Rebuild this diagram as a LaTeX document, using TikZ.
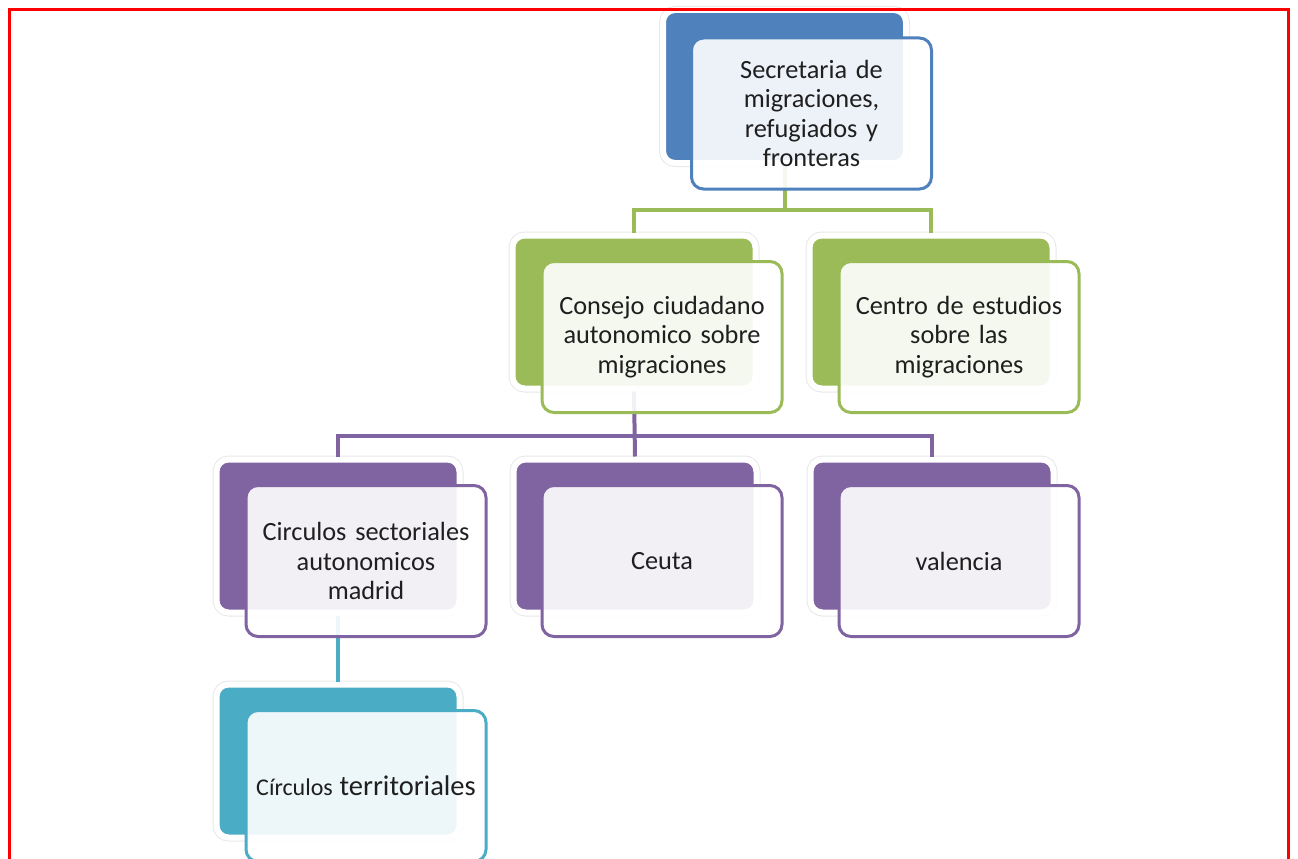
\documentclass[tikz,border=0pt]{standalone}
\usepackage{fontspec}
\setmainfont{Carlito}[WordSpace=0.8]
\usetikzlibrary{positioning}

\definecolor{secblue}{HTML}{4F81BD}
\definecolor{congreen}{HTML}{9BBB59}
\definecolor{cirpurple}{HTML}{8064A2}
\definecolor{terteal}{HTML}{4BACC6}

\tikzset{
  backbox/.style={rounded corners=12pt, fill=#1, draw=white, line width=6pt,
    minimum width=243pt, minimum height=153pt, inner sep=0pt,
    preaction={draw=black!9, line width=8pt}},
  frontbox/.style={rounded corners=12pt, draw=#1, line width=3pt,
    fill=white, fill opacity=0.9, text opacity=1, text=black!88,
    minimum width=240pt, minimum height=151pt, inner sep=0pt,
    text width=230pt, align=center, font=\fontsize{26.3}{29.5}\selectfont},
  link/.style={draw=#1, line width=4pt},
}

\begin{document}
\begin{tikzpicture}[x=1pt,y=1pt]
  \clip (0,0) rectangle (1298,-859);

  % back boxes
  \node[backbox=secblue] (secb) at (784.5,-86.5) {};
  \node[backbox=congreen] (conb) at (634,-312) {};
  \node[backbox=congreen] (cenb) at (931,-312) {};
  \node[backbox=cirpurple] (cirb) at (338,-536) {};
  \node[backbox=cirpurple] (ceub) at (635,-536) {};
  \node[backbox=cirpurple] (valb) at (932,-536) {};
  \node[backbox=terteal] (terb) at (338,-761) {};

  % connectors
  \coordinate (gbus) at (0,-210);
  \coordinate (pbus) at (0,-436);
  \draw[link=congreen] (secb.south) -- (secb.south |- gbus) -| (conb.north);
  \draw[link=congreen] (secb.south |- gbus) -| (cenb.north);
  \draw[link=cirpurple] (conb.south) -- (ceub.north);
  \draw[link=cirpurple] (conb.south |- pbus) -| (cirb.north);
  \draw[link=cirpurple] (conb.south |- pbus) -| (valb.north);
  \draw[link=terteal] (cirb.south) -- (terb.north);

  % front boxes
  \node[frontbox=secblue] (sec) at ([shift={(27,-27)}]secb)
    {Secretaria de\\ migraciones,\\ refugiados y\\ fronteras};
  \node[frontbox=congreen] (con) at ([shift={(28,-25)}]conb)
    {Consejo ciudadano\\ autonomico sobre\\ migraciones};
  \node[frontbox=congreen] (cen) at ([shift={(28,-25)}]cenb)
    {Centro de estudios\\ sobre las\\ migraciones};
  \node[frontbox=cirpurple] (cir) at ([shift={(28,-25)}]cirb)
    {Circulos sectoriales\\ autonomicos\\ madrid};
  \node[frontbox=cirpurple] (ceu) at ([shift={(27,-25)}]ceub) {Ceuta};
  \node[frontbox=cirpurple] (val) at ([shift={(27,-25)}]valb) {valencia};
  \node[frontbox=terteal] (ter) at ([shift={(28,-25)}]terb)
    {{\fontsize{24}{28}\selectfont Círculos}\hspace{-2pt} {\fontsize{28.5}{30}\selectfont territoriales}};

  % frame
  \draw[red, line width=3pt] (9,-10) rectangle (1288,-900);
\end{tikzpicture}
\end{document}
